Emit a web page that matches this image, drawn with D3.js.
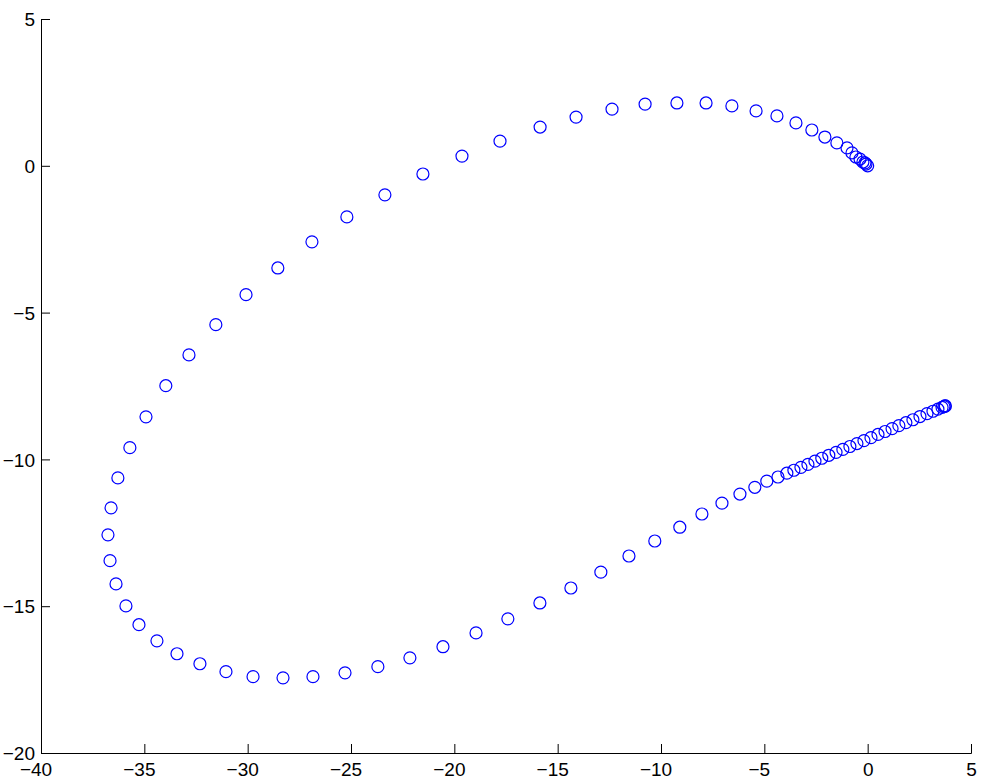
<!DOCTYPE html>
<html>
<head>
<meta charset="utf-8">
<script src="https://cdn.jsdelivr.net/npm/d3@7"></script>
<style>
  html, body { margin: 0; padding: 0; background: #fff; }
  svg { display: block; }
  text { font-family: "Liberation Sans", Arial, Helvetica, sans-serif; }
</style>
</head>
<body>
<script>
// ---- data ----
const xValues = [
  0.00, -0.08, -0.13, -0.23, -0.37, -0.57, -0.76, -1.00, -1.49, -2.07,
  -2.70, -3.47, -4.39, -5.40, -6.57, -7.82, -9.23, -10.77, -12.37, -14.11,
  -15.85, -17.79, -19.63, -21.52, -23.36, -25.20, -26.89, -28.54, -30.08, -31.54,
  -32.84, -33.96, -34.92, -35.70, -36.28, -36.61, -36.76, -36.66, -36.37, -35.89,
  -35.26, -34.39, -33.42, -32.31, -31.05, -29.74, -28.29, -26.84, -25.29, -23.70,
  -22.15, -20.55, -18.95, -17.41, -15.86, -14.36, -12.91, -11.55, -10.30, -9.09,
  -8.02, -7.05, -6.18, -5.46, -4.88, -4.34, -3.91, -3.57, -3.23, -2.89,
  -2.55, -2.22, -1.88, -1.53, -1.20, -0.86, -0.52, -0.18, 0.16, 0.50,
  0.84, 1.18, 1.51, 1.85, 2.19, 2.53, 2.87, 3.16, 3.40, 3.60,
  3.69, 3.74, 3.76
];
const yValues = [
  0.00, 0.06, 0.10, 0.13, 0.23, 0.30, 0.44, 0.61, 0.78, 0.98,
  1.22, 1.46, 1.70, 1.87, 2.04, 2.14, 2.14, 2.10, 1.93, 1.66,
  1.32, 0.84, 0.33, -0.28, -0.99, -1.74, -2.59, -3.48, -4.39, -5.41,
  -6.44, -7.49, -8.55, -9.60, -10.63, -11.65, -12.57, -13.45, -14.24, -14.99,
  -15.63, -16.18, -16.62, -16.96, -17.23, -17.40, -17.44, -17.40, -17.27, -17.06,
  -16.76, -16.38, -15.91, -15.43, -14.89, -14.38, -13.84, -13.29, -12.78, -12.31,
  -11.86, -11.49, -11.18, -10.95, -10.74, -10.60, -10.47, -10.37, -10.27, -10.17,
  -10.06, -9.96, -9.86, -9.76, -9.66, -9.56, -9.46, -9.36, -9.26, -9.15,
  -9.05, -8.95, -8.85, -8.75, -8.65, -8.54, -8.44, -8.36, -8.29, -8.23,
  -8.20, -8.18, -8.18
];
const xTicks = [-40, -35, -30, -25, -20, -15, -10, -5, 0, 5];
const yTicks = [-20, -15, -10, -5, 0, 5];

// ---- layout ----
const W = 986, H = 780;
const plotLeft = 41, plotRight = 971, plotTop = 19, plotBottom = 753;

const svg = d3.select("body").append("svg")
  .attr("width", W).attr("height", H);

const xScale = d3.scaleLinear().domain([-40, 5]).range([plotLeft, plotRight]);
const yScale = d3.scaleLinear().domain([-20, 5]).range([plotBottom, plotTop]);

const fmt = v => (v < 0 ? "\u2212" + Math.abs(v) : String(v));

// x axis
const xAxis = d3.axisBottom(xScale).tickValues(xTicks).tickSize(-9).tickPadding(0).tickFormat(fmt);
const gx = svg.append("g").attr("transform", `translate(0,${plotBottom})`).call(xAxis);
gx.select(".domain").attr("stroke", "#000").attr("stroke-width", 1);
gx.selectAll(".tick line").attr("stroke", "#000");
gx.selectAll(".tick text")
  .attr("font-size", 19).attr("fill", "#000")
  .attr("y", 22.5).attr("dy", 0)
  .attr("dx", d => d < 0 ? -5.5 : 0);

// y axis
const yAxis = d3.axisLeft(yScale).tickValues(yTicks).tickSize(-9).tickPadding(0).tickFormat(fmt);
const gy = svg.append("g").attr("transform", `translate(${plotLeft},0)`).call(yAxis);
gy.select(".domain").attr("stroke", "#000").attr("stroke-width", 1);
gy.selectAll(".tick line").attr("stroke", "#000");
gy.selectAll(".tick text")
  .attr("font-size", 19).attr("fill", "#000")
  .attr("x", -6).attr("dy", "0.35em")
  .attr("text-anchor", "end");

// points
const pts = xValues.map((v, i) => ({ x: v, y: yValues[i] }));
svg.append("g").selectAll("circle").data(pts).join("circle")
  .attr("cx", d => xScale(d.x))
  .attr("cy", d => yScale(d.y))
  .attr("r", 6)
  .attr("fill", "none")
  .attr("stroke", "#0000ff")
  .attr("stroke-width", 1.2);
</script>
</body>
</html>
